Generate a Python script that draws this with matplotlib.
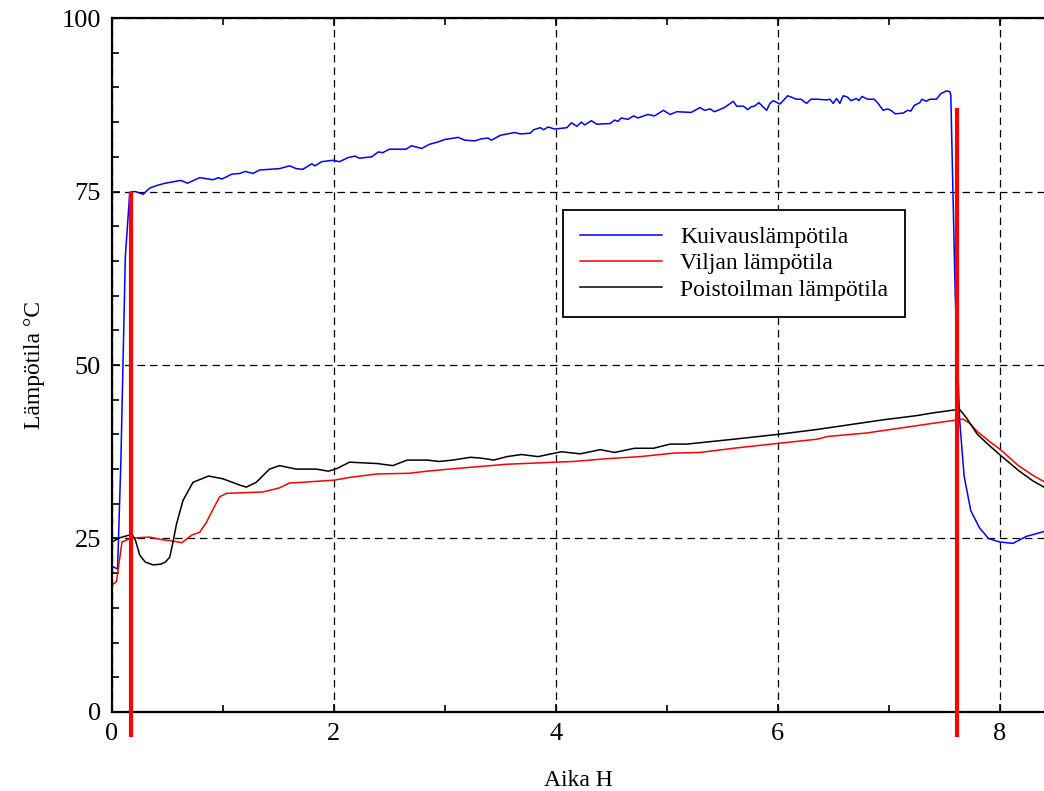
import matplotlib
matplotlib.use('Agg')
import matplotlib.pyplot as plt
from matplotlib.ticker import MultipleLocator

plt.rcParams['font.family'] = ['Liberation Serif', 'DejaVu Serif']

# kuivausilma (blue)
t_kuiv = [0.00, 0.05, 0.08, 0.12, 0.16, 0.21, 0.28, 0.34, 0.41, 0.48,
          0.55, 0.62, 0.68, 0.79, 0.91, 0.96, 0.99, 1.08, 1.15, 1.20,
          1.27, 1.33, 1.42, 1.51, 1.60, 1.66, 1.72, 1.80, 1.83, 1.89,
          1.99, 2.05, 2.13, 2.19, 2.23, 2.34, 2.40, 2.44, 2.50, 2.65,
          2.70, 2.79, 2.86, 2.93, 3.00, 3.12, 3.18, 3.27, 3.33, 3.39,
          3.42, 3.50, 3.63, 3.68, 3.77, 3.80, 3.86, 3.89, 3.93, 3.99,
          4.10, 4.14, 4.19, 4.23, 4.26, 4.32, 4.37, 4.49, 4.53, 4.56,
          4.59, 4.65, 4.70, 4.74, 4.83, 4.89, 4.97, 5.03, 5.09, 5.22,
          5.30, 5.34, 5.39, 5.43, 5.52, 5.60, 5.63, 5.69, 5.73, 5.76,
          5.79, 5.83, 5.90, 5.93, 5.96, 6.02, 6.09, 6.17, 6.21, 6.26,
          6.30, 6.36, 6.44, 6.47, 6.50, 6.53, 6.56, 6.59, 6.63, 6.66,
          6.71, 6.73, 6.76, 6.81, 6.87, 6.90, 6.95, 6.99, 7.02, 7.06,
          7.13, 7.17, 7.20, 7.23, 7.28, 7.30, 7.34, 7.37, 7.43, 7.47,
          7.52, 7.55, 7.56, 7.60, 7.64, 7.68, 7.74, 7.82, 7.90, 8.00,
          8.12, 8.24, 8.40]
kuivaus = [21.0, 20.6, 36.3, 65.6, 74.9, 75.0, 74.6, 75.5, 75.9, 76.2,
           76.4, 76.6, 76.2, 77.0, 76.7, 77.0, 76.8, 77.5, 77.6, 77.9,
           77.6, 78.1, 78.2, 78.3, 78.7, 78.3, 78.2, 79.0, 78.7, 79.3,
           79.5, 79.3, 79.9, 80.1, 79.8, 80.0, 80.7, 80.6, 81.1, 81.1,
           81.6, 81.2, 81.8, 82.1, 82.5, 82.8, 82.4, 82.3, 82.6, 82.7,
           82.4, 83.1, 83.5, 83.3, 83.4, 83.9, 84.2, 83.9, 84.3, 84.0,
           84.2, 84.9, 84.4, 85.0, 84.6, 85.2, 84.7, 84.8, 85.3, 85.1,
           85.6, 85.4, 85.9, 85.6, 86.1, 85.9, 86.7, 86.1, 86.5, 86.4,
           87.1, 86.7, 86.9, 86.5, 87.1, 88.0, 87.3, 87.3, 86.8, 87.2,
           87.3, 87.8, 86.7, 87.7, 88.1, 87.6, 88.8, 88.3, 88.3, 87.7,
           88.3, 88.3, 88.2, 88.3, 87.7, 88.4, 87.7, 88.8, 88.6, 88.1,
           88.4, 88.1, 88.7, 88.3, 88.3, 87.8, 86.7, 86.9, 86.7, 86.2,
           86.3, 86.7, 86.6, 87.4, 87.8, 88.3, 88.0, 88.3, 88.3, 89.1,
           89.5, 89.4, 88.9, 60.0, 42.0, 34.0, 29.0, 26.5, 25.0, 24.5,
           24.3, 25.3, 26.0]

# vilja (red)
t_vilja = [0.00, 0.04, 0.09, 0.15, 0.21, 0.34, 0.46, 0.52, 0.63, 0.72,
           0.79, 0.85, 0.91, 0.97, 1.03, 1.18, 1.36, 1.51, 1.60, 1.72,
           1.90, 2.00, 2.14, 2.39, 2.68, 2.84, 3.04, 3.26, 3.56, 3.86,
           3.99, 4.16, 4.46, 4.76, 5.06, 5.30, 5.60, 6.00, 6.35, 6.45,
           6.80, 7.10, 7.40, 7.58, 7.67, 7.73, 7.80, 7.90, 8.00, 8.17,
           8.30, 8.40]
vilja = [18.3, 18.8, 24.5, 24.9, 25.1, 25.2, 24.8, 24.7, 24.4, 25.5,
         25.9, 27.3, 29.2, 31.0, 31.5, 31.6, 31.7, 32.3, 33.0, 33.1,
         33.3, 33.4, 33.8, 34.3, 34.4, 34.7, 35.0, 35.3, 35.7, 35.9,
         36.0, 36.1, 36.5, 36.8, 37.3, 37.4, 38.0, 38.7, 39.3, 39.7,
         40.2, 40.9, 41.6, 42.0, 42.2, 41.6, 40.4, 39.1, 37.9, 35.5,
         34.1, 33.2]

# poistoilma (black)
t_poisto = [0.00, 0.07, 0.18, 0.21, 0.25, 0.30, 0.37, 0.44, 0.48, 0.52,
            0.55, 0.58, 0.64, 0.73, 0.87, 1.00, 1.15, 1.21, 1.30, 1.42,
            1.51, 1.66, 1.84, 1.95, 2.03, 2.14, 2.39, 2.53, 2.66, 2.84,
            2.95, 3.07, 3.23, 3.32, 3.44, 3.56, 3.69, 3.84, 3.99, 4.05,
            4.22, 4.40, 4.53, 4.71, 4.88, 5.03, 5.18, 5.36, 5.60, 6.00,
            6.35, 6.65, 6.95, 7.25, 7.40, 7.58, 7.64, 7.70, 7.80, 7.90,
            8.00, 8.17, 8.30, 8.40]
poisto = [24.5, 25.1, 25.6, 24.8, 22.6, 21.6, 21.2, 21.3, 21.6, 22.3,
          24.5, 27.0, 30.5, 33.1, 34.0, 33.6, 32.7, 32.4, 33.1, 35.0,
          35.5, 35.0, 35.0, 34.7, 35.1, 36.0, 35.8, 35.5, 36.3, 36.3,
          36.1, 36.3, 36.7, 36.6, 36.3, 36.8, 37.1, 36.8, 37.3, 37.5,
          37.2, 37.8, 37.4, 38.0, 38.0, 38.6, 38.6, 38.9, 39.3, 40.0,
          40.7, 41.4, 42.1, 42.7, 43.1, 43.5, 43.6, 42.4, 40.0, 38.5,
          37.1, 34.8, 33.3, 32.4]

# kuivauksen alku ja loppu
merkit_t = [0.17, 7.62]
merkit_yla = [75, 87]

fig = plt.figure(figsize=(10.44, 7.91), dpi=100)
ax = fig.add_axes([0.1073, 0.0999, 0.8927, 0.8773])

ax.plot(t_kuiv, kuivaus, color='#0000ff', lw=1.1, label='Kuivauslämpötila')
ax.plot(t_vilja, vilja, color='#ff0000', lw=1.1, label='Viljan lämpötila')
ax.plot(t_poisto, poisto, color='black', lw=1.1, label='Poistoilman lämpötila')

for t, yla in zip(merkit_t, merkit_yla):
    ax.plot([t, t], [-3.6, yla], color='#ff0000', lw=3.0, clip_on=False,
            solid_capstyle='butt', zorder=5)

ax.set_xlim(0, 8.4)
ax.set_ylim(0, 100)
ax.xaxis.set_major_locator(MultipleLocator(2))
ax.xaxis.set_minor_locator(MultipleLocator(1))
ax.yaxis.set_major_locator(MultipleLocator(25))
ax.yaxis.set_minor_locator(MultipleLocator(5))
ax.grid(True, which='major', color='black', ls=(0, (6, 4)), lw=0.9)

ax.spines['right'].set_visible(False)
for s in ['left', 'top', 'bottom']:
    ax.spines[s].set_linewidth(1.6)
ax.tick_params(which='both', direction='in', top=True, right=False,
               labelsize=19, pad=8, width=1.2)
ax.tick_params(which='major', length=6)
ax.tick_params(which='minor', length=5)

ax.set_xlabel('Aika H', fontsize=17, labelpad=18)
ax.set_ylabel('Lämpötila °C', fontsize=17, labelpad=12)

leg = ax.legend(loc='upper left', bbox_to_anchor=(0.484, 0.7233),
                fontsize=17, frameon=True, fancybox=False, shadow=False,
                handlelength=3.5, handletextpad=0.75, labelspacing=0.2,
                borderpad=0.7, borderaxespad=0)
leg.get_frame().set_edgecolor('black')
leg.get_frame().set_linewidth(1.3)
leg.get_frame().set_alpha(1)

plt.savefig('out.png', dpi=100)
